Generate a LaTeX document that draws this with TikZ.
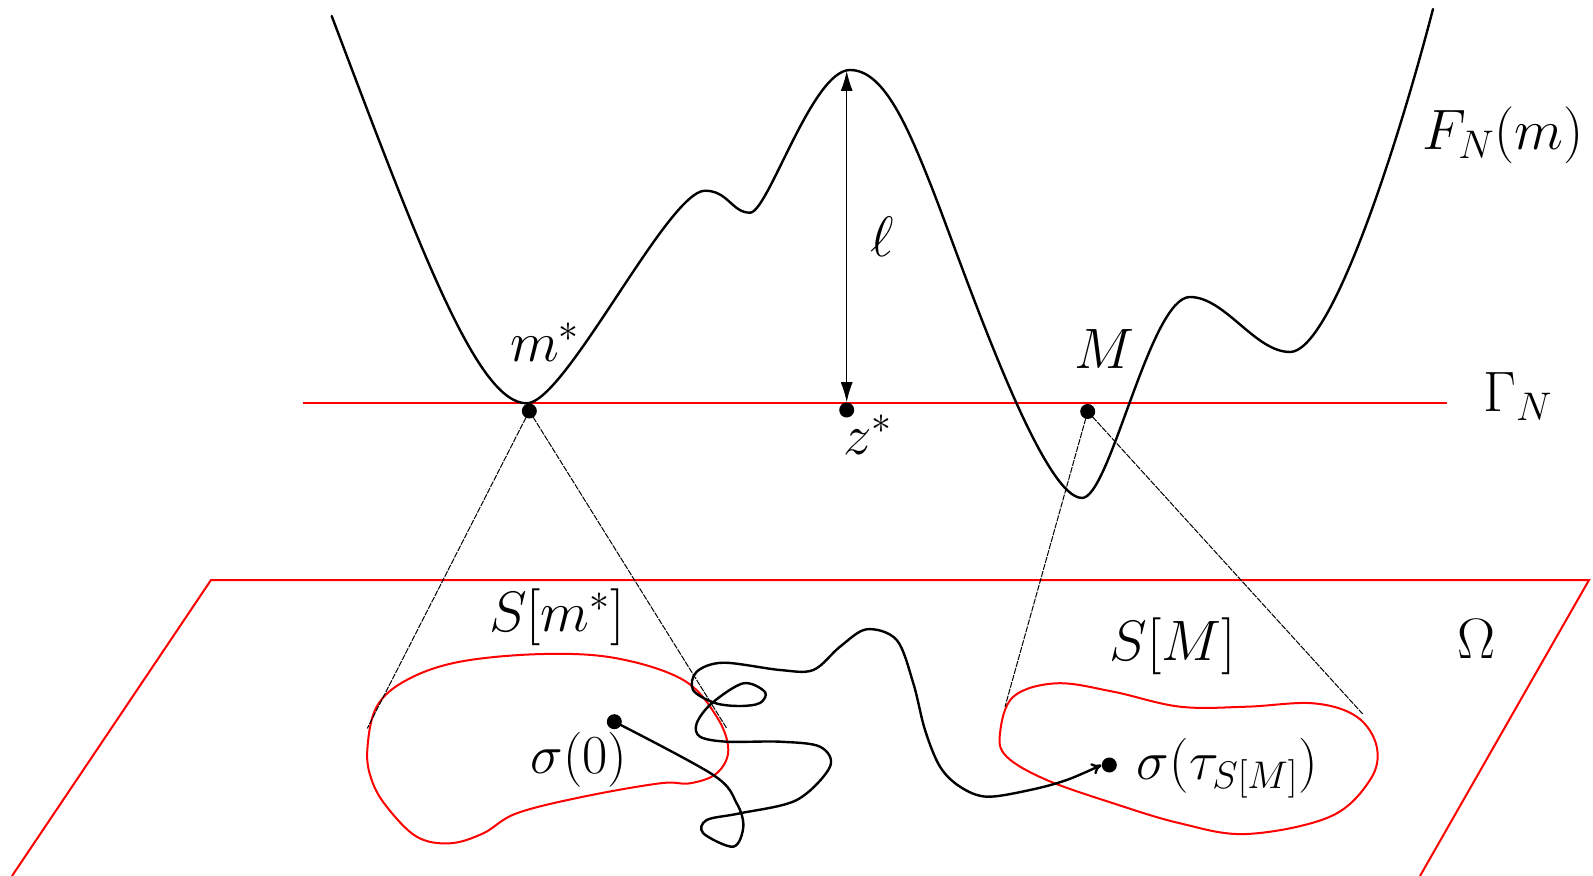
\RequirePackage{fix-cm}
\documentclass[tikz,border=0pt]{standalone}
\usetikzlibrary{arrows.meta}
\begin{document}
\begin{tikzpicture}[x=0.5pt,y=-0.5pt,
  curve/.style={line width=1.2pt, line join=round, line cap=round},
  redl/.style={red, line width=1pt},
  proj/.style={line width=0.5pt, dash pattern=on 3pt off 0.6pt},
  dot/.style={circle, fill=black, inner sep=0pt, minimum size=7.5pt},
  lbl/.style={font=\fontsize{28.5}{34}\selectfont, inner sep=0pt, anchor=base},
  slbl/.style={font=\fontsize{27.5}{33}\selectfont, inner sep=0pt, anchor=base},
  tip/.style={{Latex[length=10pt,width=6pt]}-{Latex[length=10pt,width=6pt]}}]
\useasboundingbox (0,0) rectangle (1593,876);

% Omega plane
\coordinate (p1) at (12,876);
\coordinate (p2) at (211,580);
\coordinate (p3) at (1589,580);
\coordinate (p4) at (1420,876);
\draw[redl, line join=miter] (p1) -- (p2) -- (p3) -- (p4);

% Gamma_N line
\coordinate (g1) at (303,403.5);
\coordinate (g2) at (1447,403.5);
\draw[redl] (g1) -- (g2);

% free energy curve
\draw[curve] (331.7,16)
  .. controls (422,255) and (478,403.3) .. (526.7,403.3)
  .. controls (565,403.3) and (668,190.7) .. (705,190.7)
  .. controls (728,190.7) and (732,212.7) .. (750,212.7)
  .. controls (768,212.7) and (812,70) .. (850,70)
  .. controls (882,70) and (905,120) .. (930,183)
  .. controls (960,258) and (1040,498) .. (1082,498)
  .. controls (1110,498) and (1150,297) .. (1190,297)
  .. controls (1225,297) and (1255,352) .. (1290,352)
  .. controls (1330,352) and (1395,155) .. (1433,9);

% dots on Gamma_N
\node[dot] (ms) at (529.3,411) {};
\node[dot] (zs) at (846.7,410) {};
\node[dot] (mm) at (1087.7,411.5) {};

% ell arrow
\coordinate (ltop) at (846.7,71);
\draw[tip, line width=0.5pt] (ltop) -- (zs.north);

% labels
\node[lbl] (lms) at (545,361.7) {$m^*$};
\node[lbl] (lzs) at (868,454) {$z^*$};
\node[lbl] (lmm) at (1104,368.3) {$M$};
\node[lbl] (lell) at (881.7,256.7) {$\ell$};
\node[lbl] (lF) at (1503,150) {$F_N(m)$};
\node[lbl] (lG) at (1518,411.7) {$\Gamma_N$};
\node[lbl] (lSm) at (557,631.7) {$S[m^*]$};
\node[lbl] (lSM) at (1172.5,660) {$S[M]$};
\node[lbl] (lO) at (1476,658) {$\Omega$};

% red sets
\draw[redl] plot[smooth cycle, tension=0.6] coordinates {
 (367.3,750) (376.7,706.7) (406.7,680) (460,661.7) (543.3,654) (616.7,658.3)
 (683.3,680) (716.7,716.7) (728.3,750) (716.7,773.3) (690,783.3) (660,783.3)
 (583.3,796.7) (516.7,813.3) (483.3,833.3) (450,843.3) (416.7,836.7)
 (386.7,806.7) (371.7,780)};
\draw[redl] plot[smooth cycle, tension=0.6] coordinates {
 (1000,733.3) (1013.3,696.7) (1056.7,683.3) (1113.3,691.7) (1180,706.7)
 (1246.7,706.7) (1313.3,703.3) (1356.7,716.7) (1376.7,746.7) (1370,780)
 (1330,816.7) (1246.7,834) (1180,823.3) (1113.3,803.3) (1046.7,780)
 (1006.7,756.7)};

% projection lines
\coordinate (a1) at (367.3,728.3);
\coordinate (a2) at (726.7,728.3);
\coordinate (b1) at (1005,706.7);
\coordinate (b2) at (1362.7,714);
\draw[proj] (ms.center) -- (a1);
\draw[proj] (ms.center) -- (a2);
\draw[proj] (mm.center) -- (b1);
\draw[proj] (mm.center) -- (b2);

% path endpoints
\node[dot] (s0) at (614.3,721.7) {};
\node[dot] (st) at (1109.3,765) {};
\node[slbl] (ls0) at (579,773) {$\sigma(0)$};
\node[slbl] (lst) at (1227.5,779) {$\sigma(\tau_{S[M]})$};

% trajectory
\draw[curve, -{To[length=5pt,width=6pt]}] plot[smooth, tension=0.55] coordinates {
 (s0) (713.3,775) (736.7,803.3) (743.3,826.7) (733.3,846.7) (703.3,833.3)
 (706.7,820) (740,813.3) (796.7,800) (830,766.7) (820,746.7) (780,741.7)
 (726.7,741.7) (700,736.7) (696.7,723.3) (711.7,703.3) (743.3,683.3)
 (765,692) (760,703) (740,706) (715,703) (693,690) (696.7,671.7)
 (723.3,662.7) (780,670) (813.3,670) (840,646.7) (866.7,629.3) (896.7,640)
 (913.3,683.3) (925,730) (940,766.7) (960,786.7) (986.7,796.7) (1030,790)
 (1066.7,780) (st.west)};
\end{tikzpicture}
\end{document}
